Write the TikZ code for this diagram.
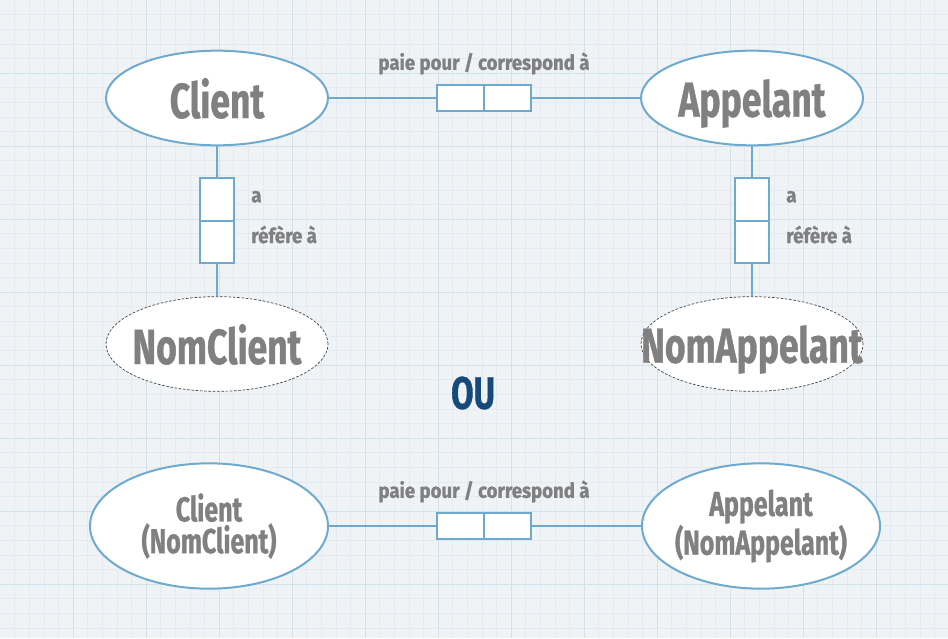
\documentclass[tikz,border=0pt]{standalone}
\usepackage{fontspec}
\newfontfamily\chalk[FakeStretch=0.72, FakeBold=0.8]{Fira Sans}
\newfontfamily\chalksmall[FakeStretch=0.9, FakeBold=1.2]{Fira Sans}
\usetikzlibrary{positioning, shapes.geometric, calc}
\definecolor{paper}{RGB}{240,243,246}
\definecolor{minorline}{RGB}{228,234,239}
\definecolor{majorline}{RGB}{210,225,234}
\definecolor{linkblue}{RGB}{110,170,205}
\definecolor{ink}{RGB}{128,128,128}
\definecolor{oublue}{RGB}{22,74,122}

\begin{document}
\begin{tikzpicture}[
    x=0.75pt, y=-0.75pt,
    entity/.style={ellipse, draw=linkblue, line width=1.5pt, fill=white, inner sep=0pt, minimum width=166.5pt, minimum height=71pt},
    attr/.style={ellipse, draw=black!75, line width=0.5pt, dash pattern=on 2pt off 1.2pt, fill=white, inner sep=0pt, minimum width=166.5pt, minimum height=71pt},
    relbox/.style={rectangle, draw=linkblue, line width=1.5pt, fill=white, inner sep=0pt},
    hrel/.style={relbox, minimum width=70.5pt, minimum height=19.5pt},
    vrel/.style={relbox, minimum width=25.5pt, minimum height=63.75pt},
    link/.style={draw=linkblue, line width=1.5pt},
    bigtext/.style={font=\chalk\bfseries\fontsize{37}{40}\selectfont, text=ink, inner sep=0pt, text depth=0pt},
    midtext/.style={font=\chalk\bfseries\fontsize{26}{22}\selectfont, text=ink, inner sep=0pt, align=center},
    smalltext/.style={font=\chalksmall\bfseries\fontsize{15.5}{18}\selectfont, text=ink, inner sep=1pt}
]
    \useasboundingbox (0,0) rectangle (948,638);
    % Paper
    \fill[paper] (0,0) rectangle (948,638);
    \foreach \i in {1,...,64} \draw[minorline, line width=0.3pt] (\i*14.6,0) -- (\i*14.6,638);
    \foreach \i in {1,...,43} \draw[minorline, line width=0.3pt] (0,\i*14.6) -- (948,\i*14.6);
    \foreach \i in {1,...,12} \draw[majorline, line width=0.6pt] (\i*73,0) -- (\i*73,638);
    \foreach \i in {1,...,8} \draw[majorline, line width=0.6pt] (0,\i*73) -- (948,\i*73);

    % First schema
    \node[entity, label={[bigtext]center:Client}] (client) at (217,98) {};
    \node[entity, label={[bigtext]center:Appelant}] (appelant) at (752,98) {};
    \node[hrel] (paie) at (484,98) {};
    \node[smalltext, above=6pt of paie] (paie-lbl) {paie pour / correspond à};

    \node[vrel] (ref-client) at (217,220.5) {};
    \node[vrel] (ref-appelant) at (752,220.5) {};
    \node[smalltext, anchor=base west] (a-client) at ([xshift=11pt, yshift=-19pt]ref-client.north east) {a};
    \node[smalltext, anchor=base west] (refere-client) at ([xshift=11pt, yshift=-49.5pt]ref-client.north east) {réfère à};
    \node[smalltext, anchor=base west] (a-appelant) at ([xshift=11pt, yshift=-19pt]ref-appelant.north east) {a};
    \node[smalltext, anchor=base west] (refere-appelant) at ([xshift=11pt, yshift=-49.5pt]ref-appelant.north east) {réfère à};

    \node[attr, label={[bigtext]center:NomClient}] (nomclient) at (217,344) {};
    \node[attr, label={[bigtext]center:NomAppelant}] (nomappelant) at (752,344) {};

    \draw[link] (client) -- (paie) -- (appelant);
    \draw[link] (client) -- (ref-client) -- (nomclient);
    \draw[link] (appelant) -- (ref-appelant) -- (nomappelant);
    \draw[link] (paie.north) -- (paie.south);
    \draw[link] (ref-client.west) -- (ref-client.east);
    \draw[link] (ref-appelant.west) -- (ref-appelant.east);

    \node[font=\chalk\bfseries\fontsize{34}{38}\selectfont, text=oublue] (ou) at (473,393) {OU};

    % Second schema
    \node[entity, minimum width=178.5pt, minimum height=94pt, label={[midtext]center:{Client\\(NomClient)}}] (client2) at (209,526) {};
    \node[entity, minimum width=178.5pt, minimum height=94pt, label={[midtext]center:{Appelant\\(NomAppelant)}}] (appelant2) at (761,526) {};
    \node[hrel] (paie2) at (484,526) {};
    \node[smalltext, above=6pt of paie2] (paie2-lbl) {paie pour / correspond à};

    \draw[link] (client2) -- (paie2) -- (appelant2);
    \draw[link] (paie2.north) -- (paie2.south);
\end{tikzpicture}
\end{document}
